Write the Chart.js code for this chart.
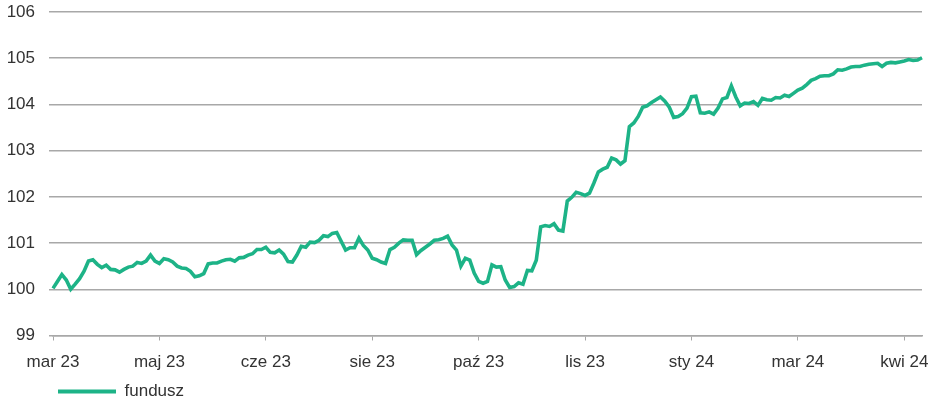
<!DOCTYPE html>
<html>
<head>
<meta charset="utf-8">
<script src="https://cdn.jsdelivr.net/npm/chart.js@4/dist/chart.umd.min.js"></script>
<style>
  html, body { margin: 0; padding: 0; background: #ffffff; }
  #wrap { width: 944px; height: 403px; position: relative; }
</style>
</head>
<body>
<div id="wrap"><canvas id="c" width="944" height="403"></canvas></div>
<script>
const seriesName = 'fundusz';

const tickLabels = ['mar 23', 'maj 23', 'cze 23', 'sie 23', 'paź 23', 'lis 23', 'sty 24', 'mar 24', 'kwi 24'];
const tickEvery = 24;

const fundValues = [
  100.02, 100.17, 100.32, 100.20, 100.00, 100.11, 100.23, 100.39, 100.61, 100.64,
  100.54, 100.47, 100.52, 100.43, 100.42, 100.37, 100.43, 100.48, 100.50, 100.58,
  100.56, 100.61, 100.74, 100.61, 100.56, 100.66, 100.64, 100.59, 100.50, 100.46,
  100.45, 100.39, 100.27, 100.29, 100.34, 100.55, 100.57, 100.57, 100.61, 100.64,
  100.65, 100.61, 100.68, 100.69, 100.74, 100.77, 100.86, 100.86, 100.91, 100.80,
  100.79, 100.85, 100.76, 100.60, 100.59, 100.74, 100.93, 100.91, 101.02, 101.01,
  101.06, 101.16, 101.14, 101.21, 101.23, 101.04, 100.85, 100.90, 100.90, 101.11,
  100.95, 100.85, 100.67, 100.64, 100.59, 100.56, 100.86, 100.91, 101.00, 101.07,
  101.06, 101.06, 100.75, 100.84, 100.91, 100.98, 101.06, 101.07, 101.10, 101.15,
  100.96, 100.85, 100.50, 100.67, 100.63, 100.35, 100.17, 100.13, 100.17, 100.53,
  100.48, 100.49, 100.20, 100.04, 100.06, 100.14, 100.11, 100.41, 100.40, 100.63,
  101.35, 101.38, 101.36, 101.42, 101.28, 101.26, 101.91, 101.99, 102.10, 102.07,
  102.03, 102.08, 102.30, 102.54, 102.60, 102.64, 102.84, 102.80, 102.71, 102.78,
  103.52, 103.60, 103.74, 103.94, 103.97, 104.04, 104.10, 104.16, 104.07, 103.94,
  103.72, 103.74, 103.80, 103.92, 104.17, 104.18, 103.82, 103.81, 103.84, 103.79,
  103.92, 104.12, 104.15, 104.40, 104.16, 103.97, 104.03, 104.02, 104.06, 103.98,
  104.13, 104.10, 104.09, 104.15, 104.14, 104.20, 104.17, 104.24, 104.31, 104.35,
  104.43, 104.52, 104.56, 104.61, 104.62, 104.62, 104.66, 104.75, 104.74, 104.77,
  104.81, 104.82, 104.82, 104.85, 104.87, 104.88, 104.89, 104.82, 104.89, 104.91,
  104.90, 104.92, 104.94, 104.97, 104.95, 104.96, 105.01
];

const categories = fundValues.map((_, i) =>
  (i % tickEvery === 0 && tickLabels[i / tickEvery] !== undefined) ? tickLabels[i / tickEvery] : ''
);

const lineColor = '#1db387';
const textColor = '#333333';
const gridColor = '#a8a8a8';
const fontFamily = '"Liberation Sans", Arial, sans-serif';

new Chart(document.getElementById('c'), {
  type: 'line',
  data: {
    labels: categories,
    datasets: [{
      label: seriesName,
      data: fundValues,
      borderColor: lineColor,
      backgroundColor: lineColor,
      borderWidth: 3.6,
      pointRadius: 0,
      tension: 0,
      fill: false
    }]
  },
  options: {
    responsive: false,
    animation: false,
    devicePixelRatio: 1,
    layout: { padding: { top: 12, right: 22, bottom: -7, left: 0 } },
    plugins: {
      tooltip: { enabled: false },
      legend: {
        display: true,
        position: 'bottom',
        align: 'start',
        fullSize: false,
        labels: {
          boxWidth: 58,
          boxHeight: 4,
          padding: 5,
          color: textColor,
          font: { family: fontFamily, size: 17 },
          generateLabels: (chart) => chart.data.datasets.map((ds, i) => ({
            text: ds.label,
            fillStyle: ds.borderColor,
            strokeStyle: ds.borderColor,
            lineWidth: 0,
            hidden: false,
            datasetIndex: i,
            fontColor: textColor
          }))
        }
      }
    },
    scales: {
      x: {
        type: 'category',
        offset: false,
        grid: {
          display: true,
          drawOnChartArea: false,
          drawTicks: true,
          tickLength: 5,
          color: gridColor
        },
        border: { display: true, color: gridColor, width: 1.5 },
        ticks: {
          autoSkip: false,
          maxRotation: 0,
          minRotation: 0,
          padding: 12,
          color: textColor,
          font: { family: fontFamily, size: 17 }
        },
        afterBuildTicks: (axis) => {
          axis.ticks = axis.ticks.filter(t => categories[t.value] !== '');
        },
        afterFit: (axis) => { axis.height = 42.5; }
      },
      y: {
        min: 99,
        max: 106,
        grid: {
          color: gridColor,
          lineWidth: 1.5,
          drawTicks: true,
          tickLength: 4
        },
        border: { display: false },
        ticks: {
          stepSize: 1,
          padding: 14,
          color: textColor,
          font: { family: fontFamily, size: 17 }
        },
        afterFit: (axis) => { axis.width = 53; axis.paddingTop = 0; axis.paddingBottom = 0; }
      }
    }
  }
});
</script>
</body>
</html>
